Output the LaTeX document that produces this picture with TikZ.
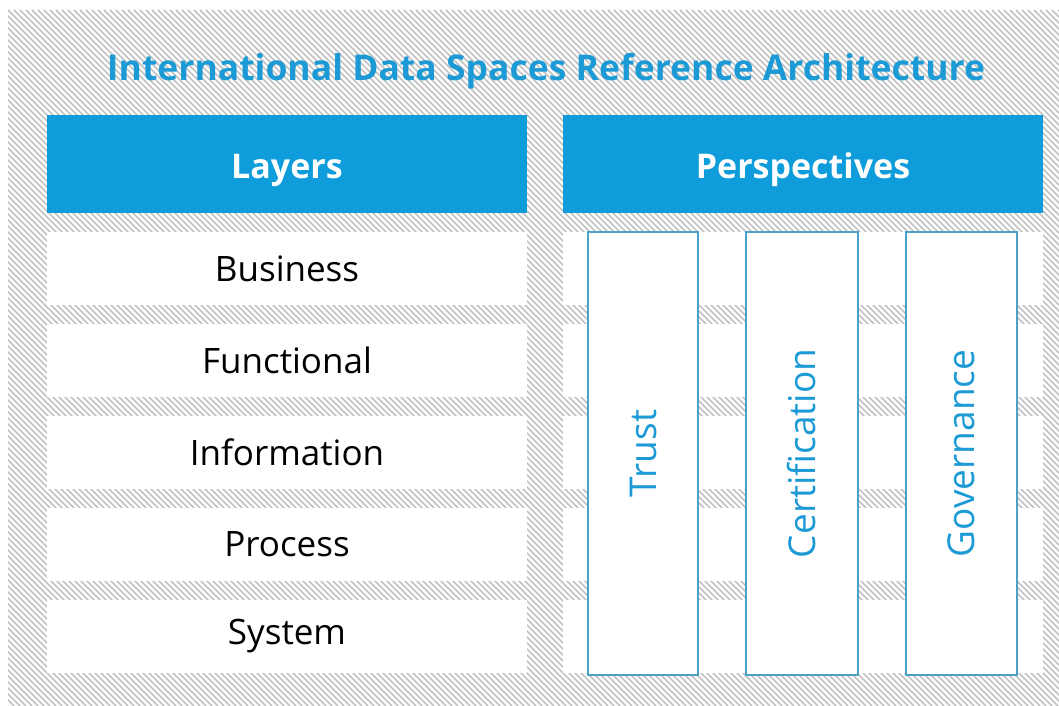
\documentclass[tikz,border=0pt]{standalone}
\usepackage{fontspec}
\setmainfont{Open Sans}
\usepackage{xcolor}
\usetikzlibrary{positioning}
\definecolor{idsblue}{HTML}{0E9CDB}
\definecolor{idstext}{HTML}{1C9AD6}
\definecolor{idsframe}{HTML}{4AA2C6}
\definecolor{hatchgray}{HTML}{C2C2C2}

\begin{document}
\begin{tikzpicture}[x=1pt,y=1pt,
  headbox/.style={fill=idsblue,text=white,minimum width=480pt,minimum height=98pt,inner sep=0pt,outer sep=0pt,text height=30pt,text depth=0pt,font=\fontsize{34}{40}\selectfont\bfseries},
  layerbox/.style={fill=white,minimum width=480pt,minimum height=73pt,inner sep=0pt,outer sep=0pt,font=\fontsize{35}{42}\selectfont},
  persbox/.style={draw=idsframe,line width=1.5pt,fill=white,rotate=90,minimum width=443pt,inner sep=0pt,outer sep=0pt,text=idstext,font=\fontsize{37}{44}\selectfont}]
\useasboundingbox (0,0) rectangle (1059,706);
\begin{scope}
\clip (8,0) rectangle (1059,696);
\foreach \x in {-700,-694,...,1060}
  \draw[hatchgray,line width=1.6pt] (\x,696) -- (\x+696,0);
\end{scope}
\node[font=\fontsize{35.5}{42}\selectfont\bfseries,text=idstext] (title) at (546,635) {International Data Spaces Reference Architecture};
\node[headbox] (layers) at (287,542) {Layers};
\node[headbox] (persp) at (803,542) {Perspectives};
\node[layerbox] (business) at (287,437.5) {Business};
\node[layerbox,below=19pt of business] (functional) {Functional};
\node[layerbox,below=19pt of functional] (information) {Information};
\node[layerbox,below=19pt of information] (process) {Process};
\node[layerbox,below=19pt of process] (system) {System};
\foreach \r in {business,functional,information,process,system}
  \fill[white] ([xshift=36pt]\r.south east) rectangle ([xshift=516pt]\r.north east);
\node[persbox,minimum height=110pt] (trust) at (643,252.5) {Trust};
\node[persbox,minimum height=112pt] (cert) at (802,252.5) {Certification};
\node[persbox,minimum height=111pt] (gov) at (961.5,252.5) {Governance};
\end{tikzpicture}
\end{document}
